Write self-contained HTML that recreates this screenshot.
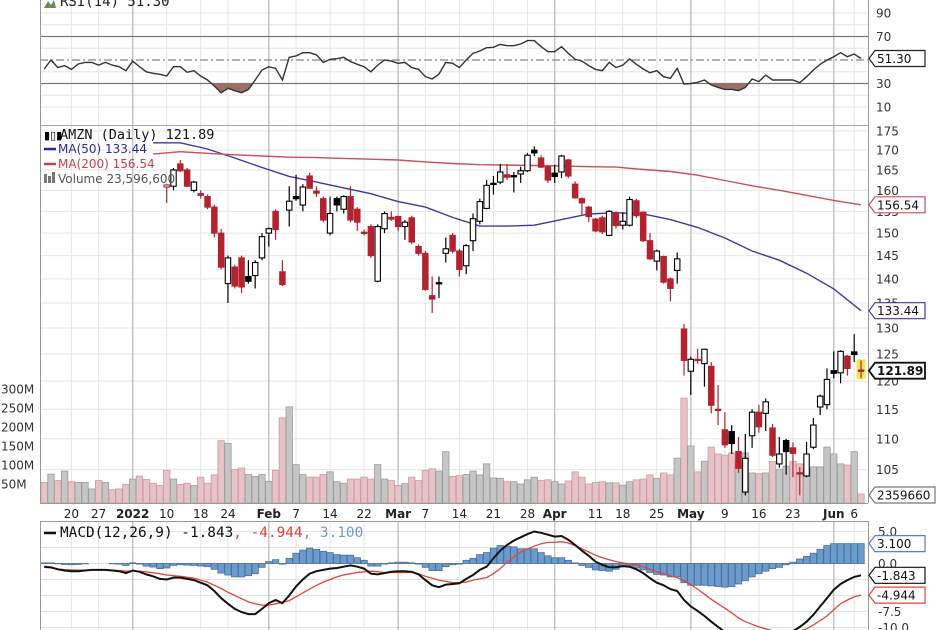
<!DOCTYPE html>
<html><head><meta charset="utf-8">
<style>
body{margin:0;background:#fff;}
svg{display:block;font-family:"DejaVu Sans","Liberation Sans",sans-serif;}
</style></head>
<body>
<svg id="chart" width="936" height="630" viewBox="0 0 936 630">
<defs>
<clipPath id="clipR"><rect x="40" y="0" width="828" height="125"/></clipPath>
<clipPath id="clipP"><rect x="40" y="125" width="828" height="378"/></clipPath>
<clipPath id="clipM"><rect x="40" y="521" width="828" height="109"/></clipPath>
<clipPath id="clipOS"><rect x="40" y="83.5" width="828" height="42"/></clipPath>
</defs>
<g id="grid"></g>
<g id="vol" clip-path="url(#clipP)"></g>
<g id="ma" clip-path="url(#clipP)"></g>
<g id="candles" clip-path="url(#clipP)"></g>
<g id="rsi" clip-path="url(#clipR)"></g>
<g id="macd" clip-path="url(#clipM)"></g>
<g id="frame" stroke="#999" fill="none">
<line x1="40.5" y1="0" x2="40.5" y2="503"/><line x1="868.5" y1="0" x2="868.5" y2="503"/>
<line x1="40" y1="125.5" x2="868" y2="125.5" stroke="#aaa"/>
<line x1="40" y1="503.5" x2="868" y2="503.5"/>
<line x1="40.5" y1="521" x2="40.5" y2="630"/><line x1="868.5" y1="521" x2="868.5" y2="630"/>
<line x1="40" y1="521.5" x2="868" y2="521.5"/>
</g>
<g id="labels" font-size="12" fill="#333"></g>
<g>
<path d="M44 8 L48 1 L51 5 L54 0 L56 8 Z" fill="#6a8a5a"/>
<text x="60" y="6" font-size="14" font-family="DejaVu Sans Mono, Liberation Mono, monospace" fill="#222">RSI(14) 51.30</text>
</g>
<g font-size="12">
<text x="44" y="139" font-size="11" fill="#000">▮▯▮</text>
<text x="60" y="139" fill="#111" font-size="13.5" font-family="DejaVu Sans Mono, Liberation Mono, monospace">AMZN (Daily) 121.89</text>
<line x1="44" y1="149" x2="56" y2="149" stroke="#2a2a9a" stroke-width="2.5"/>
<text x="58" y="153" fill="#2a2a9a">MA(50) 133.44</text>
<line x1="44" y1="164" x2="56" y2="164" stroke="#c4404a" stroke-width="2.5"/>
<text x="58" y="168" fill="#c4404a">MA(200) 156.54</text>
<path d="M44 183 V174 h3 v9 M48 183 V176 h3 v7 M52 183 V172 h3 v11" fill="#777"/>
<text x="58" y="183" fill="#555">Volume 23,596,600</text>
</g>
<g font-size="14.4" font-family="DejaVu Sans Mono, Liberation Mono, monospace">
<line x1="44" y1="533" x2="56" y2="533" stroke="#111" stroke-width="2.5"/>
<text x="60" y="537"><tspan fill="#111">MACD(12,26,9) -1.843</tspan><tspan fill="#e0403a">, -4.944</tspan><tspan fill="#6a9ad0">, 3.100</tspan></text>
</g>
</svg>
<script>
// ---------- data ----------
const firstJ = -18;              // first session drawn in RSI/volume/MACD (trading-day index, 0 = Jan 10 2022)
const prevClose0 = 162.6;
const opens  = [160.8,161,166.5,165,160,159.2,158.5,156,150,139,142.5,144.5,140.5,140.7,144.5,150,155,141.5,155.3,158.5,156.5,163.5,159.8,158,150,158,155.5,158.5,155.5,150.2,151.5,139.5,151,153.6,153.8,151.5,153.5,147,145.5,136.5,139.2,145.5,149.5,146,142.8,148.3,152.7,155.7,161.7,162,163.8,163.6,164,164.8,170,168,165.8,164.2,164.5,167.5,161.5,158,156,153.2,153.5,149.5,154.6,151.8,151.8,157.5,154.8,148.3,143.8,144.8,140,141.8,129.8,121.8,124,123.2,122.7,115,111.5,111.2,107.9,101.5,110.5,114.5,114.3,111.8,105.9,109.7,108.5,104.5,104,108.6,115.4,115.8,121.9,121.5,124.6,125.4,122];
const highs  = [161.5,165.5,167.5,165.5,162.3,160,159,156.5,151,145,143,145,144,144,150,151.3,155.5,144,161,163.8,161.5,164.3,161,158.5,158.5,158.5,158.8,161,156,150.8,152,152,155,155,154,153,154,147.5,146,140.5,140.5,149,150,146.5,147.5,154.5,158,162.5,163.5,166.5,166.5,164.5,165.8,169.3,171,168.7,166,166.3,168.8,167.8,162.2,158.3,156.3,153.5,154,155.3,155,154.8,158.5,158,155,150,146.3,145,140.3,145.7,130.8,124.5,126,126,123.5,119.3,114.5,112.3,110.3,110.8,115,115.8,116.9,112.5,110.3,110,109.4,105.4,109.5,113.5,117.6,122.3,125.5,125.7,124.8,128.8,123.8];
const lows   = [157,160,164.5,160.8,159.5,158,155.5,149,142,135,138,137,139,138,144,147,148.5,138.5,151.5,157.5,155,162,158.4,152.5,149.5,155,154.5,152.5,150.5,149.5,144.5,139.3,150,152.8,150.5,148.5,147.5,145,137.5,133,136,143.5,145.5,140.5,141,146,152,155.5,159,161.5,162.5,159.5,161.8,164.5,168.5,165.5,161.8,161.8,163,163,158,154,152.5,150.2,149.8,149.3,151,150.8,151.5,153.5,148,144,141.8,139,135.3,139,121,117.5,123.2,119,114.3,112.3,108.5,107.5,104.5,101,108.5,111,111.3,107,105.3,104.2,103.8,101,103.8,108.3,114,115,120.5,119.6,121,123.5,120.5];
const closes = [161.3,165,164.8,161,162,158.8,156,150,142.5,144.5,138.5,138.3,139.5,143.5,149.2,151,150.8,138.8,157.4,158,160.8,160.5,159.3,153,154.5,156.5,158.5,153,152.5,150,145,151.5,154.5,153.2,151.5,152.5,148,145.5,137.8,135.8,139,146.5,146,142,147.2,153.3,157.3,161.2,161.4,164.5,163.2,163.4,164.8,168.7,169.3,165.7,162.5,163.4,168.5,163.5,158.2,157,153.8,150.5,150.3,155,151.7,152.7,157.8,154,148.3,144.3,146,139.3,138,144.3,123.8,124,123.8,125.9,115.7,114.8,109,109.2,105.2,106.8,114.5,112,116.3,107.3,107.5,107.9,107.6,104.3,107.5,112.3,117.3,120.3,121.4,125.5,122.3,124.9,121.89];
const volumes = [54,76,59,84,56,54,54,37,59,54,35,37,49,63,71,62,52,46,
 86,63,49,52,46,68,52,74,164,157,88,92,75,70,75,57,86,224,253,101,75,68,68,75,82,56,52,63,63,68,63,101,63,59,46,51,68,59,86,90,84,135,70,72,75,84,
 74,103,66,65,56,56,50,61,68,59,61,56,50,58,82,68,50,54,56,53,53,47,56,61,63,74,65,79,74,118,276,150,82,110,147,129,126,132,109,132,79,77,79,109,89,97,109,103,89,95,95,147,129,103,100,135,23.6];
const volDown = "pgpgpgggpgpppgpppp"+"pgppgppppgppggggppgggpppgggppppggppgppppggppgg"+"ggggpggggp"+"pggppppppg"+"pggpppgppg"+"pgpgppppgg"+"gpgpggppgg"+"ggggpgp";
const ma50  = [171.9,171.9,170.3,168.0,165.6,163.4,162.0,160.6,159.2,157.3,156.0,153.6,151.6,151.6,151.8,153.1,154.4,154.7,154.4,153.1,151.3,148.9,146.0,144.0,141.2,137.9,133.44];
const ma200 = [169.0,169.6,169.2,168.8,168.5,168.2,168.1,167.9,167.7,167.5,167.0,166.6,166.3,166.2,166.1,166.0,165.8,165.7,165.1,164.6,163.7,162.4,161.1,160.0,158.8,157.6,156.54];
const maStartJ = -2, maStep = 4;
const rsiValues = [42.3,50,43.5,45.2,42,46.6,48,48,45.7,48,45.7,44.3,40.9,49.1,44.3,40,38.7,37.8,
 36.4,44.3,44.3,39.5,40.9,36.4,33,27.9,22.2,25.9,23.9,22.2,25,33,41.5,44.3,42.9,33,52.3,53.4,56.2,56.2,54.3,48,50.6,51.1,52.3,48.6,46.3,44.3,40,45.7,50,49.1,47.2,48,43.5,42,35.8,33.8,38.1,48,47.2,43.5,50,55.7,57.7,
 60.5,60.8,63.3,62.2,62.2,63.6,66.5,66.5,61.3,57.1,57.1,61.3,55.7,50.6,49.1,45.2,42,40.9,48,43.5,45.7,50.9,46.3,42.3,39.2,40.9,35.8,34.4,42.9,29.5,30,31,33,28.7,26.7,25,25,23.9,26.7,33.8,31.6,37.2,33,33,33,33,30.7,35.8,41.5,46.3,50,52.8,56.2,52.8,55.1,51.3];
const macdLine = [-0.5,-0.6,-0.9,-1.1,-1.2,-1.2,-1.1,-1.0,-1.0,-1.0,-1.1,-1.2,-1.5,-1.1,-1.3,-1.7,-2.0,-2.4,
 -2.5,-2.2,-2.2,-2.4,-2.6,-3.0,-3.4,-4.3,-5.4,-6.3,-7.1,-7.6,-7.9,-7.9,-7.1,-6.2,-5.7,-6.2,-5.0,-3.6,-2.5,-1.6,-1.2,-1.0,-0.8,-0.7,-0.5,-0.3,-0.5,-0.8,-1.6,-1.7,-1.5,-1.3,-1.2,-1.2,-1.3,-1.7,-2.6,-3.4,-3.7,-3.3,-3.2,-3.1,-2.4,
 -1.8,-1.0,-0.5,0.8,2.0,2.9,3.6,4.1,4.6,5.0,4.8,4.5,4.2,4.3,3.7,2.9,2.0,1.2,0.3,-0.2,-0.6,-0.6,-0.4,-0.5,-0.9,-1.5,-2.3,-3.0,-3.4,-4.0,-4.3,-5.7,-6.7,-7.4,-8.2,-9.1,-9.9,-10.7,-11.3,-11.7,-11.8,-11.6,-11.5,-11.4,-11.3,-11.3,-11.0,-10.6,-9.9,-9.1,-8.0,-6.7,-5.4,-4.1,-3.2,-2.6,-2.1,-1.843];
const signalLine = [-0.6,-0.7,-0.85,-0.95,-1.0,-1.05,-1.05,-1.0,-1.0,-1.0,-1.05,-1.1,-1.2,-1.2,-1.2,-1.3,-1.45,-1.6,
 -1.8,-1.9,-2.0,-2.15,-2.3,-2.6,-2.9,-3.4,-3.9,-4.5,-5.0,-5.5,-6.0,-6.3,-6.5,-6.5,-6.3,-6.1,-5.8,-5.2,-4.6,-4.0,-3.4,-2.9,-2.5,-2.1,-1.8,-1.6,-1.4,-1.3,-1.2,-1.3,-1.4,-1.4,-1.4,-1.4,-1.4,-1.6,-2.0,-2.3,-2.6,-2.8,-3.0,-3.0,-2.9,
 -2.6,-2.4,-2.2,-1.6,-0.8,0.2,1.0,1.8,2.3,2.7,3.1,3.3,3.3,3.4,3.2,2.8,2.3,1.8,1.3,0.9,0.6,0.3,0.1,-0.1,-0.2,-0.5,-0.9,-1.3,-1.6,-1.9,-2.2,-2.7,-3.3,-4.0,-4.8,-5.6,-6.3,-7.0,-7.7,-8.5,-9.1,-9.5,-9.9,-10.2,-10.5,-10.7,-10.8,-10.8,-10.6,-10.2,-9.6,-8.9,-8.2,-7.2,-6.3,-5.7,-5.2,-4.944];
const tickDays = [-14,-10,-5,0,5,9,15,19,24,29,34,38,43,48,53,57,63,67,72,77,82,87,92,98,101];
const tickText = ['20','27','2022','10','18','24','Feb','7','14','22','Mar','7','14','21','28','Apr','11','18','25','May','9','16','23','Jun','6'];
const tickMonth = [0,0,1,0,0,0,1,0,0,0,1,0,0,0,0,1,0,0,0,1,0,0,0,1,0];
const priceTicks = [175,170,165,160,155,150,145,140,135,130,125,120,115,110,105];
const volTicks = [300,250,200,150,100,50];
const volTickText = ['300M','250M','200M','150M','100M','50M'];
const rsiTicks = [90,70,30,10];
const macdTicks = [5,2.5,0,-2.5,-5,-7.5,-10];
const macdTickText = ['5.0','2.5','0.0','-2.5','-5.0','-7.5','-10.0'];

// ---------- scales ----------
const xj = j => 166.7 + 6.807*j;
const yP = p => 328 - 663*Math.log(p/130);
const yV = v => 503 - 0.38*v;
const yR = r => 60 - (r-50)*1.175;
const yM = m => 563.5 - 6.4*m;

const NS = 'http://www.w3.org/2000/svg';
function mk(parent, tag, attrs){
  const el = document.createElementNS(NS, tag);
  for (const k in attrs) el.setAttribute(k, attrs[k]);
  document.getElementById(parent).appendChild(el);
  return el;
}

// ---------- grid ----------
const gY = [];
for (let r=10;r<=90;r+=10) if(r!==30&&r!==50&&r!==70) gY.push(yR(r));
priceTicks.forEach(p=>gY.push(yP(p)));
macdTicks.forEach(m=>gY.push(yM(m)));
gY.forEach(y=>{
  const l = mk('grid','line',{x1:40,x2:868,y1:y,y2:y,stroke:'#e4e4e4'});
  
  
});
tickDays.forEach((d,i)=>{
  const x = xj(d);
  [[0,503],[521,630]].forEach(seg=>{
    const l = mk('grid','line',{x1:x,x2:x,y1:seg[0],y2:seg[1],stroke:tickMonth[i]?'#c4c4c4':'#e4e4e4','stroke-width':tickMonth[i]?1.5:1});
    
    
  });
  const t = mk('labels','text',{x:x,y:518,'text-anchor':'middle','font-weight':tickMonth[i]?'bold':'normal',fill:'#222'});
  t.textContent = tickText[i];
  
  
});
[[70,'#777',''],[30,'#777',''],[50,'#888','8 3 2 3']].forEach(a=>{
  const l = mk('grid','line',{x1:40,x2:868,y1:yR(a[0]),y2:yR(a[0]),stroke:a[1],'stroke-width':1.3,'stroke-dasharray':a[2]});
  
  
});

// ---------- volume ----------
volumes.forEach((v,i)=>{
  const x = xj(firstJ+i), d = volDown[i]==='p';
  const r = mk('vol','rect',{x:x-3.2,y:yV(v),width:6.4,height:503-yV(v),fill:d?'#e6c3c7':'#c6c6c6',stroke:d?'#cf9aa0':'#9c9c9c','stroke-width':0.8});
  
  
});

// ---------- moving averages ----------
[[ma50,'#3a3aa6'],[ma200,'#c8505a']].forEach((arr,k)=>{
  const pts = arr[0].map((v,i)=>xj(maStartJ+i*maStep).toFixed(1)+','+yP(v).toFixed(1)).join(' ');
  const pl = mk('ma','polyline',{points:pts,fill:'none',stroke:arr[1],'stroke-width':1.4});
  
  
});

// ---------- candles ----------
const last = closes.length-1;
const hl = mk('candles','rect',{x:xj(last)-4.5,y:yP(highs[last])-1,width:9,height:yP(lows[last])-yP(highs[last])+2,fill:'#f4e65a'});


closes.forEach((c,j)=>{
  const o = opens[j], pc = j? closes[j-1] : prevClose0;
  const col = c < pc ? '#b3232f' : '#000';
  const x = xj(j);
  const w = mk('candles','line',{x1:x,x2:x,y1:yP(highs[j]),y2:yP(lows[j]),stroke:col,'stroke-width':1.2});
  
  
  const top = yP(Math.max(o,c)), bot = yP(Math.min(o,c));
  const b = mk('candles','rect',{x:x-2.7,y:top,width:5.4,height:Math.max(1.2,bot-top),fill:c<o?col:'#fff',stroke:col,'stroke-width':1.1});
  
  
});

// ---------- RSI ----------
const rsiPts = rsiValues.map((v,i)=>[xj(firstJ+i),yR(v)]);
const area = 'M'+rsiPts[0][0]+','+yR(30)+' '+rsiPts.map(p=>'L'+p[0].toFixed(1)+','+p[1].toFixed(1)).join(' ')+' L'+rsiPts[rsiPts.length-1][0]+','+yR(30)+'Z';
const fill = mk('rsi','path',{d:area,fill:'#9b6e68','clip-path':'url(#clipOS)'});


const rl = mk('rsi','polyline',{points:rsiPts.map(p=>p[0].toFixed(1)+','+p[1].toFixed(1)).join(' '),fill:'none',stroke:'#333','stroke-width':1.4});



// ---------- MACD ----------
macdLine.forEach((m,i)=>{
  const h = m - signalLine[i], x = xj(firstJ+i);
  const y0 = yM(0), y1 = yM(h);
  const r = mk('macd','rect',{x:x-3.2,y:Math.min(y0,y1),width:6.4,height:Math.abs(y1-y0),fill:'#6b9bcc',stroke:'#4a6f9a','stroke-width':0.8});
  
  
});
[[signalLine,'#e0453c',1.3,'macd-signal-line'],[macdLine,'#111',2,'macd-line']].forEach(a=>{
  const pl = mk('macd','polyline',{points:a[0].map((v,i)=>xj(firstJ+i).toFixed(1)+','+yM(v).toFixed(1)).join(' '),fill:'none',stroke:a[1],'stroke-width':a[2]});
  
  
});

// ---------- axis labels ----------
function axisText(x,y,txt,name,anchor){
  const t = mk('labels','text',{x:x,y:y,'text-anchor':anchor||'start'});
  t.textContent = txt;
  
  
}
priceTicks.forEach(p=>axisText(876,yP(p)+4.5,String(p),'price-axis-label'));
rsiTicks.forEach(r=>axisText(876,yR(r)+4.5,String(r),'rsi-axis-label'));
volTicks.forEach((v,i)=>axisText(1,yV(v)+4.5,volTickText[i],'volume-axis-label'));
macdTicks.forEach((m,i)=>axisText(878,yM(m)+4.5,macdTickText[i],'macd-axis-label'));

function tag(y,txt,border,name,bold,wid){
  const W = wid||56;
  const p = mk('labels','path',{d:`M869 ${y} L875 ${y-8} L${869+W} ${y-8} L${869+W} ${y+8} L875 ${y+8} Z`,fill:'#fff',stroke:border,'stroke-width':bold?1.8:1.2});
  
  
  const t = mk('labels','text',{x:877,y:y+4.5,fill:'#111','font-weight':bold?'bold':'normal'});
  t.textContent = txt;
  
  
}
tag(yR(rsiValues[rsiValues.length-1]),'51.30','#222','rsi-value-tag');
tag(yP(ma200[ma200.length-1]),'156.54','#c8505a','ma200-value-tag');
tag(yP(ma50[ma50.length-1]),'133.44','#3a3aa6','ma50-value-tag');
tag(yP(closes[last]),'121.89','#111','last-price-tag',true);
tag(yV(volumes[volumes.length-1])+1,'2359660','#777','volume-value-tag',false,66);
tag(yM(macdLine[macdLine.length-1]-signalLine[signalLine.length-1]),'3.100','#5a7fc0','macd-histogram-tag');
tag(yM(macdLine[macdLine.length-1]),'-1.843','#111','macd-value-tag');
tag(yM(signalLine[signalLine.length-1]),'-4.944','#e0453c','macd-signal-tag');
</script>
</body></html>
